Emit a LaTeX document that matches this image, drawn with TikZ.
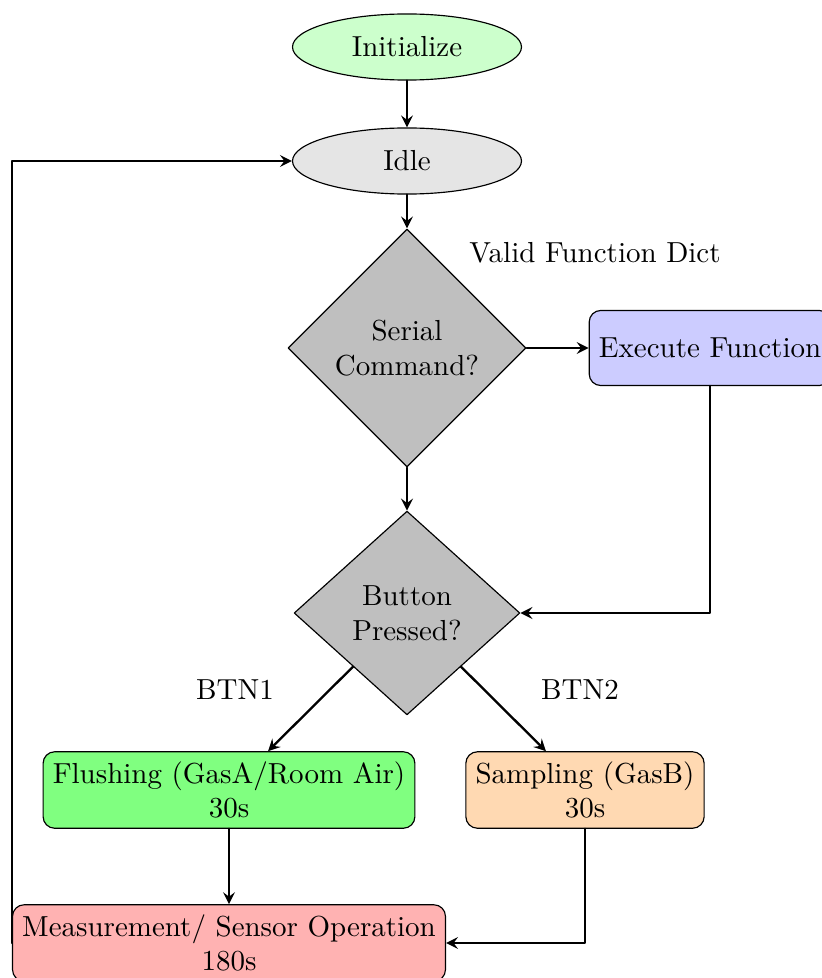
\documentclass[tikz,border=0pt]{standalone}
\usepackage{amsmath,amssymb}
\usepackage{tikz}
\usetikzlibrary{arrows, shapes.geometric, positioning}

\begin{document}
\begin{tikzpicture}[
  x=0.345pt,
  y=-0.345pt,
  line cap=round,
  line join=round,
  state/.style={ellipse, draw, minimum width=79pt, minimum height=22.8pt},
  decision/.style={diamond, draw, fill=gray!50, align=center, inner sep=0pt},
  process/.style={rectangle, rounded corners=4pt, draw, align=center,
    minimum height=25.9pt},
  flow/.style={-stealth, thick}
]
  \useasboundingbox (0,0) rectangle (821,978);

  % Start and idle states
  \node[state, fill=green!20] (init) at (407,47) {Initialize};
  \node[state, fill=gray!20] (idle) at (407,161) {Idle};

  % Decisions
  \node[decision, minimum width=82.1pt, minimum height=82.1pt]
    (serial) at (407,348) {Serial\\Command?};
  \node[decision, minimum width=77.9pt, minimum height=70.3pt]
    (button) at (407,613) {Button\\Pressed?};

  % Actions
  \node[process, fill=blue!20] (exec) at (710,348) {Execute Function};
  \node[process, fill=green!50] (flush) at (229,790)
    {Flushing (GasA/Room Air)\\30s};
  \node[process, fill=orange!30] (sample) at (585,790)
    {Sampling (GasB)\\30s};
  \node[process, fill=red!30] (measure) at (229,943)
    {Measurement/ Sensor Operation\\180s};

  % Branch labels
  \node (validlbl) at (595,253) {Valid Function Dict};
  \node (btnonelbl) at (235,690) {BTN1};
  \node (btntwolbl) at (580,690) {BTN2};

  % Connectors
  \draw[flow] (init) -- (idle);
  \draw[flow] (idle) -- (serial);
  \draw[flow] (serial) -- (exec);
  \draw[flow] (serial) -- (button);
  \draw[flow] (exec.south) |- (button.east);
  \draw[flow] (button) -- (flush);
  \draw[flow] (button) -- (sample);
  \draw[flow] (flush) -- (measure);
  \draw[flow] (sample.south) |- (measure.east);
  \draw[flow] (measure.west) |- (idle.west);
\end{tikzpicture}
\end{document}
